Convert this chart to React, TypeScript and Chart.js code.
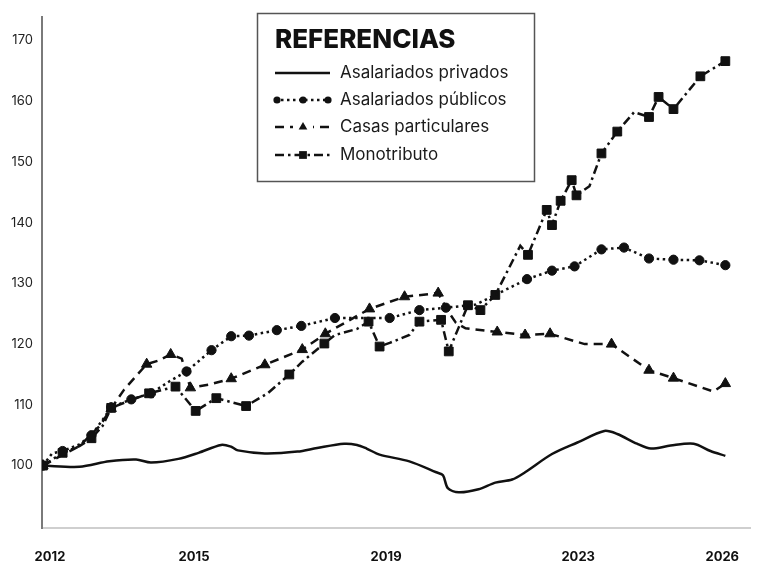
import React, { useEffect, useRef } from "react";
import { Chart, registerables } from "chart.js";

Chart.register(...registerables);

const xTickYears = [2012, 2015, 2019, 2023, 2026];
const yTickValues = [100, 110, 120, 130, 140, 150, 160, 170];

const seriesNames = ["Asalariados privados", "Asalariados públicos", "Casas particulares", "Monotributo"];

const privadosX = [2012.0, 2012.76, 2013.38, 2013.94, 2014.25, 2014.82, 2015.24, 2015.71, 2015.92, 2016.06, 2016.62, 2017.3, 2017.71, 2018.27, 2018.54, 2018.74, 2019.01, 2019.63, 2020.19, 2020.33, 2020.43, 2020.66, 2021.07, 2021.42, 2021.77, 2022.04, 2022.6, 2023.13, 2023.69, 2023.96, 2024.37, 2024.66, 2025.07, 2025.55, 2025.9, 2026.21];
const privadosY = [100, 99.8, 100.7, 101.0, 100.5, 101.1, 102.1, 103.4, 103.1, 102.5, 102.0, 102.3, 102.9, 103.6, 103.4, 102.8, 101.8, 100.7, 98.9, 98.4, 96.3, 95.6, 96.1, 97.2, 97.7, 98.9, 101.9, 103.8, 105.7, 105.2, 103.6, 102.8, 103.3, 103.6, 102.4, 101.6];

const publicosX = [2012.0, 2012.19, 2012.41, 2012.76, 2013.01, 2013.24, 2013.42, 2013.84, 2014.25, 2014.62, 2014.99, 2015.51, 2015.92, 2016.29, 2016.87, 2017.38, 2018.08, 2019.22, 2019.84, 2020.39, 2021.01, 2021.42, 2022.08, 2022.6, 2023.07, 2023.63, 2024.1, 2024.62, 2025.13, 2025.67, 2026.21];
const publicosY = [100, 102.0, 102.4, 103.5, 105.0, 107.5, 109.6, 110.9, 111.9, 113.8, 115.5, 119.0, 121.3, 121.4, 122.3, 123.0, 124.3, 124.3, 125.6, 126.0, 126.5, 128.1, 130.7, 132.1, 132.8, 135.6, 135.9, 134.1, 133.9, 133.8, 133.0];
const publicosMarks = [1, 0, 1, 0, 1, 0, 1, 1, 1, 0, 1, 1, 1, 1, 1, 1, 1, 1, 1, 1, 0, 0, 1, 1, 1, 1, 1, 1, 1, 1, 1];

const casasX = [2012.0, 2012.35, 2012.76, 2013.18, 2013.42, 2013.69, 2014.16, 2014.41, 2014.66, 2014.89, 2015.07, 2015.44, 2015.92, 2016.62, 2017.4, 2017.88, 2018.8, 2019.53, 2020.23, 2020.43, 2020.6, 2020.8, 2021.46, 2022.04, 2022.56, 2023.28, 2023.84, 2024.62, 2025.13, 2025.96, 2026.21];
const casasY = [100, 101.5, 103.2, 106.5, 109.4, 112.5, 116.7, 117.3, 118.3, 117.6, 112.8, 113.3, 114.3, 116.6, 119.1, 121.7, 125.8, 127.8, 128.4, 125.5, 123.5, 122.6, 122.0, 121.5, 121.7, 120.0, 120.0, 115.7, 114.4, 112.2, 113.5];
const casasMarks = [1, 0, 0, 0, 1, 0, 1, 0, 1, 0, 1, 0, 1, 1, 1, 1, 1, 1, 1, 0, 0, 0, 1, 1, 1, 0, 1, 1, 1, 0, 1];

const monoX = [2012.0, 2012.41, 2012.76, 2013.01, 2013.24, 2013.42, 2013.84, 2014.21, 2014.76, 2015.18, 2015.61, 2016.23, 2016.68, 2017.13, 2017.4, 2017.86, 2018.08, 2018.54, 2018.78, 2019.01, 2019.22, 2019.63, 2019.84, 2020.29, 2020.45, 2020.66, 2020.85, 2021.11, 2021.42, 2021.69, 2021.94, 2022.1, 2022.49, 2022.6, 2022.78, 2023.01, 2023.11, 2023.38, 2023.63, 2023.96, 2024.31, 2024.62, 2024.82, 2025.13, 2025.69, 2026.21];
const monoY = [100, 102.1, 103.2, 104.5, 106.5, 109.5, 110.8, 111.9, 113.0, 109.0, 111.1, 109.8, 111.9, 115.0, 117.1, 120.1, 121.5, 122.5, 123.7, 119.6, 120.2, 121.5, 123.7, 124.0, 118.8, 122.8, 126.4, 125.6, 128.1, 132.3, 136.2, 134.7, 142.1, 139.6, 143.6, 147.0, 144.5, 146.0, 151.4, 155.0, 158.2, 157.4, 160.7, 158.7, 164.1, 166.6];
const monoMarks = [1, 1, 0, 1, 0, 1, 0, 1, 1, 1, 1, 1, 0, 1, 0, 1, 0, 0, 1, 1, 0, 0, 1, 1, 1, 0, 1, 1, 1, 0, 0, 1, 1, 1, 1, 1, 1, 0, 1, 1, 0, 1, 1, 1, 1, 1];

const INK = "#111111";
const FONT = "Inter, 'Noto Sans', sans-serif";

const DASH_PUB = [2.5, 3.5];
const DASH_CASAS = [9, 6];
const DASH_MONO = [9, 4, 2.5, 4];

const R_CIRCLE = 4.6;
const R_TRI = 6;
const R_RECT = 6.2;

function pts(xs: number[], ys: number[]) {
  return xs.map((x, i) => ({ x, y: ys[i] }));
}

function radii(marks: number[], r: number) {
  return marks.map((m) => (m ? r : 0));
}

function drawMarker(ctx: CanvasRenderingContext2D, style: string, x: number, y: number, r: number) {
  ctx.beginPath();
  if (style === "circle") {
    ctx.arc(x, y, r, 0, Math.PI * 2);
  } else if (style === "triangle") {
    const h = r * 1.5;
    const side = (r * 3) / Math.sqrt(3);
    ctx.moveTo(x, y - (2 / 3) * h);
    ctx.lineTo(x + side / 2, y + h / 3);
    ctx.lineTo(x - side / 2, y + h / 3);
    ctx.closePath();
  } else {
    const s = Math.SQRT1_2 * r;
    ctx.rect(x - s, y - s, 2 * s, 2 * s);
  }
  ctx.fill();
}

const legendPlugin = {
  id: "refLegend",
  afterDraw(chart: any) {
    const ctx: CanvasRenderingContext2D = chart.ctx;
    ctx.save();
    ctx.fillStyle = "#ffffff";
    ctx.fillRect(257, 13, 278, 169);
    ctx.strokeStyle = "#555555";
    ctx.lineWidth = 1.5;
    ctx.strokeRect(257.5, 13.5, 277, 168);

    ctx.fillStyle = INK;
    ctx.textBaseline = "alphabetic";
    ctx.textAlign = "left";
    ctx.font = `800 26px ${FONT}`;
    ctx.fillText("REFERENCIAS", 275, 48);

    const rows = [73, 100, 127, 155];
    const x0 = 275;
    const x1 = 330;
    ctx.font = `400 17px ${FONT}`;
    ctx.textBaseline = "middle";
    rows.forEach((y, i) => {
      ctx.strokeStyle = INK;
      ctx.fillStyle = INK;
      ctx.lineWidth = 2.5;
      ctx.setLineDash(i === 0 ? [] : i === 1 ? DASH_PUB : i === 2 ? DASH_CASAS : DASH_MONO);
      ctx.beginPath();
      ctx.moveTo(x0, y);
      ctx.lineTo(x1, y);
      ctx.stroke();
      ctx.setLineDash([]);
      if (i === 1) {
        [277, 303, 328].forEach((cx) => drawMarker(ctx, "circle", cx, y, 3.6));
      } else if (i === 2) {
        ctx.fillStyle = "#fff";
        ctx.fillRect(293, y - 6, 20, 12);
        ctx.fillStyle = INK;
        drawMarker(ctx, "triangle", 303, y, 5);
      } else if (i === 3) {
        drawMarker(ctx, "rect", 303, y, 5.5);
      }
      ctx.fillStyle = "#1a1a1a";
      ctx.fillText(seriesNames[i], 340, y);
    });
    ctx.restore();
  },
};

export default function App() {
  const canvasRef = useRef<HTMLCanvasElement | null>(null);

  useEffect(() => {
    if (!canvasRef.current) return;
    const common = {
      borderColor: INK,
      backgroundColor: INK,
      pointBackgroundColor: INK,
      pointBorderColor: INK,
      pointBorderWidth: 1,
      borderWidth: 2.5,
      tension: 0,
      fill: false,
      pointHoverRadius: 0,
    };
    const chart = new Chart(canvasRef.current, {
      type: "line",
      data: {
        datasets: [
          {
            ...common,
            label: seriesNames[0],
            data: pts(privadosX, privadosY),
            pointRadius: 0,
            tension: 0.3,
          },
          {
            ...common,
            label: seriesNames[1],
            data: pts(publicosX, publicosY),
            borderDash: DASH_PUB,
            pointStyle: "circle",
            pointRadius: radii(publicosMarks, R_CIRCLE),
          },
          {
            ...common,
            label: seriesNames[2],
            data: pts(casasX, casasY),
            borderDash: DASH_CASAS,
            pointStyle: "triangle",
            pointRadius: radii(casasMarks, R_TRI),
          },
          {
            ...common,
            label: seriesNames[3],
            data: pts(monoX, monoY),
            borderDash: DASH_MONO,
            pointStyle: "rect",
            pointRadius: radii(monoMarks, R_RECT),
          },
        ],
      },
      options: {
        responsive: false,
        animation: false,
        events: [],
        layout: { padding: { top: 12, left: 0, right: 0, bottom: 0 } },
        plugins: {
          legend: { display: false },
          tooltip: { enabled: false },
        },
        scales: {
          x: {
            type: "linear",
            min: 2011.98,
            max: 2026.74,
            grid: { display: false, drawTicks: false },
            border: { display: true, color: "#cfcfcf", width: 2 },
            afterBuildTicks: (scale: any) => {
              scale.ticks = xTickYears.map((v) => ({ value: v }));
            },
            afterFit: (scale: any) => {
              scale.height = 36;
            },
            ticks: {
              autoSkip: false,
              maxRotation: 0,
              padding: 21,
              labelOffset: 7,
              color: INK,
              font: { family: FONT, size: 13, weight: "bold" },
              callback: (v: any) => String(v),
            },
          },
          y: {
            type: "linear",
            min: 89.72,
            max: 173.9,
            grid: { display: false, drawTicks: false },
            border: { display: true, color: "#7a7a7a", width: 2 },
            afterBuildTicks: (scale: any) => {
              scale.ticks = yTickValues.map((v) => ({ value: v }));
            },
            afterFit: (scale: any) => {
              scale.width = 42;
            },
            ticks: {
              padding: 9,
              color: "#222222",
              font: { family: FONT, size: 13 },
              callback: (v: any) => String(v),
            },
          },
        },
      } as any,
      plugins: [legendPlugin],
    });
    return () => chart.destroy();
  }, []);

  return (
    <div style={{ position: "absolute", left: 0, top: 0, width: 758, height: 564, background: "#fff" }}>
      <canvas ref={canvasRef} width={758} height={564} style={{ display: "block" }} />
    </div>
  );
}
